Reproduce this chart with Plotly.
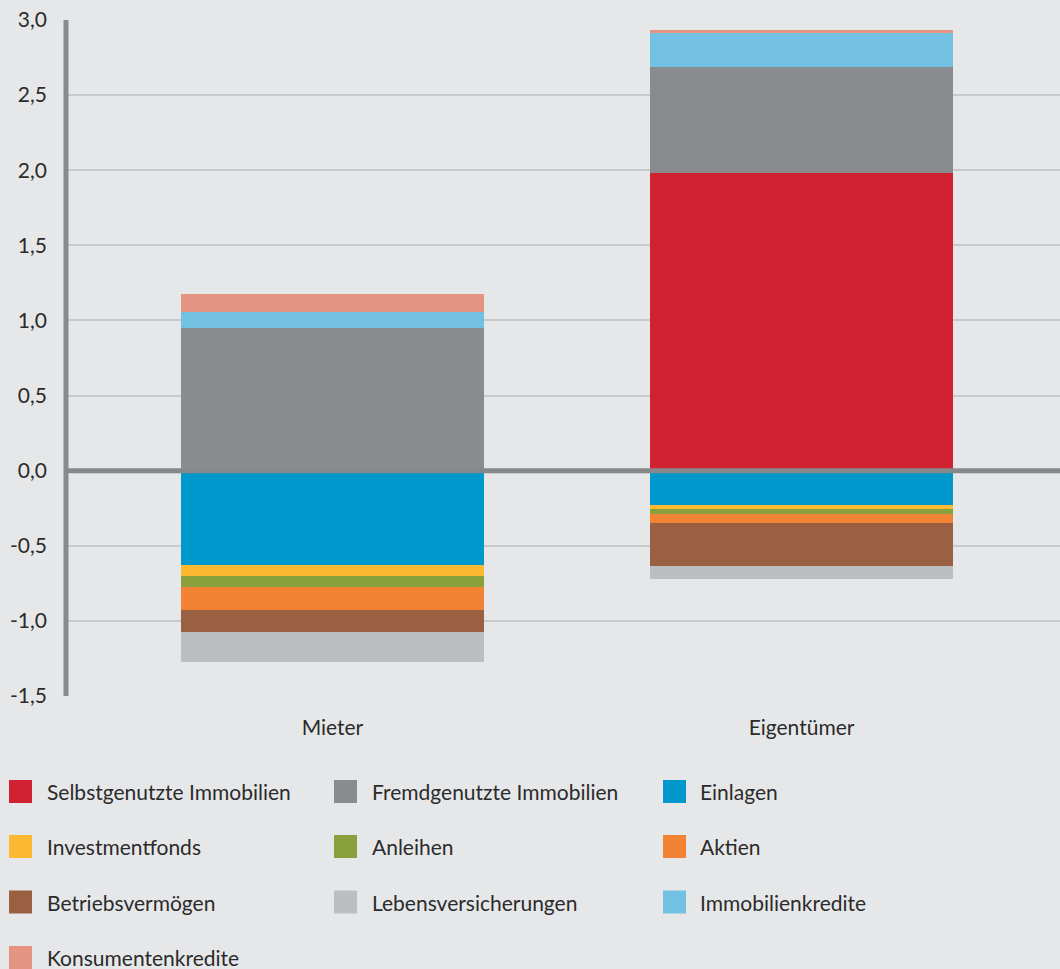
import plotly.graph_objects as go

categories = ["Mieter", "Eigentümer"]
series_names = [
    "Selbstgenutzte Immobilien", "Fremdgenutzte Immobilien", "Einlagen",
    "Investmentfonds", "Anleihen", "Aktien",
    "Betriebsvermögen", "Lebensversicherungen", "Immobilienkredite",
    "Konsumentenkredite",
]
selbstgenutzte = [0.0, 1.98]
fremdgenutzte = [0.95, 0.707]
einlagen = [-0.627, -0.227]
investmentfonds = [-0.073, -0.027]
anleihen = [-0.073, -0.036]
aktien = [-0.153, -0.058]
betriebsvermoegen = [-0.147, -0.287]
lebensversicherungen = [-0.2, -0.087]
immobilienkredite = [0.105, 0.233]
konsumentenkredite = [0.12, 0.013]
values = [selbstgenutzte, fremdgenutzte, einlagen, investmentfonds, anleihen,
          aktien, betriebsvermoegen, lebensversicherungen, immobilienkredite,
          konsumentenkredite]
colors = ["#d12234", "#8a8b8f", "#0098cd", "#fdb931", "#8aa03c", "#f38334",
          "#9a6042", "#bdbec1", "#72c0e2", "#e59483"]
tick_vals = [-1.5, -1.0, -0.5, 0.0, 0.5, 1.0, 1.5, 2.0, 2.5, 3.0]
tick_text = ["-1,5", "-1,0", "-0,5", "0,0", "0,5", "1,0", "1,5", "2,0", "2,5", "3,0"]

FONT = "Lato, Open Sans, sans-serif"
TXT = "#2b2b2b"
BG = "#e6e7e9"
FS = 21

fig = go.Figure()
for name, vals, col in zip(series_names, values, colors):
    fig.add_trace(go.Bar(x=categories, y=vals, name=name, marker_color=col,
                         marker_line_width=0, width=0.646, showlegend=False))

# plot area in pixels
L, T, W, H = 66, 20, 994, 676
def px(x):
    return (x - L) / W
def py(y):
    return (T + H - y) / H

shapes = [
    dict(type="line", xref="paper", yref="paper", x0=0, x1=0, y0=0, y1=1,
         line=dict(color="#888a8d", width=5), layer="above"),
    dict(type="line", xref="paper", yref="y", x0=0, x1=1, y0=0, y1=0,
         line=dict(color="#87888a", width=5), layer="above"),
]
annotations = []
col_sq = [9, 334, 663]
col_tx = [45, 370, 698]
row_y = [791.5, 846.5, 902, 957.5]
for i, (name, col) in enumerate(zip(series_names, colors)):
    r, c = divmod(i, 3)
    cy = row_y[r]
    shapes.append(dict(type="rect", xref="paper", yref="paper",
                       x0=px(col_sq[c]), x1=px(col_sq[c] + 23),
                       y0=py(cy - 11.5), y1=py(cy + 11.5),
                       fillcolor=col, line=dict(width=0)))
    annotations.append(dict(xref="paper", yref="paper", x=px(col_tx[c]), y=py(cy),
                            text=name, showarrow=False, xanchor="left",
                            yanchor="middle", font=dict(family=FONT, size=FS, color=TXT)))

fig.update_layout(
    barmode="relative",
    width=1060, height=969,
    margin=dict(l=L, r=0, t=T, b=969 - T - H),
    paper_bgcolor=BG, plot_bgcolor=BG,
    font=dict(family=FONT, size=FS, color=TXT),
    bargap=0,
    shapes=shapes,
    annotations=annotations,
    xaxis=dict(range=[-0.568, 1.551], showgrid=False, zeroline=False,
               showline=False, ticks="", ticklabelstandoff=17,
               tickfont=dict(size=FS)),
    yaxis=dict(range=[-1.5, 3.0], tickvals=tick_vals, ticktext=tick_text,
               showgrid=True, gridcolor="#c8c9cb", gridwidth=2, zeroline=False,
               showline=False, ticks="", ticklabelstandoff=18,
               tickfont=dict(size=FS)),
)
fig.write_html("out.html", config={"displayModeBar": False},
               post_script="document.body.style.margin='0';")
